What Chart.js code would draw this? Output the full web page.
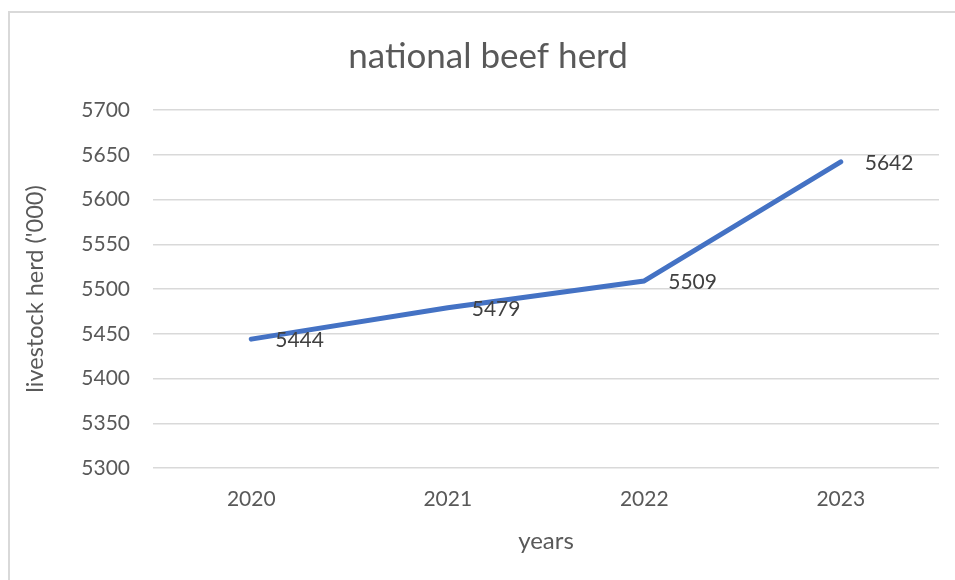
<!DOCTYPE html>
<html>
<head>
<meta charset="utf-8">
<script src="https://cdn.jsdelivr.net/npm/chart.js@4/dist/chart.umd.min.js"></script>
<style>
  html, body { margin: 0; padding: 0; background: #fff; overflow: hidden; }
  #wrap { position: relative; width: 955px; height: 580px; }
  #frame { position: absolute; left: 8px; top: 11px; width: 980px; height: 600px; border: 2px solid #d9d9d9; box-sizing: border-box; }
  canvas { position: absolute; left: 0; top: 0; }
</style>
</head>
<body>
<div id="wrap">
  <div id="frame"></div>
  <canvas id="chart" width="955" height="580"></canvas>
</div>
<script>
const years = ['2020', '2021', '2022', '2023'];
const herd = [5444, 5479, 5509, 5642];
const yMin = 5300, yMax = 5700, yStep = 50;

const FONT = 'Lato, "Open Sans", sans-serif';
const GREY = '#595959';

// title and value labels drawn on the canvas
const extras = {
  id: 'extras',
  afterDatasetsDraw(chart) {
    const ctx = chart.ctx;
    ctx.save();
    ctx.fillStyle = GREY;
    ctx.font = '35px ' + FONT;
    ctx.textAlign = 'center';
    ctx.textBaseline = 'middle';
    ctx.fillText('national beef herd', 488, 57);

    ctx.fillStyle = '#404040';
    ctx.font = '21px ' + FONT;
    ctx.textAlign = 'left';
    chart.getDatasetMeta(0).data.forEach((pt, i) => {
      ctx.fillText(String(herd[i]), pt.x + 24, pt.y + 1);
    });
    ctx.restore();
  }
};

new Chart(document.getElementById('chart'), {
  type: 'line',
  data: {
    labels: years,
    datasets: [{
      data: herd,
      borderColor: '#4472C4',
      borderWidth: 5,
      borderCapStyle: 'round',
      borderJoinStyle: 'round',
      pointRadius: 0,
      tension: 0,
    }],
  },
  options: {
    responsive: false,
    animation: false,
    layout: { padding: { top: 110, right: 16, left: 0, bottom: 0 } },
    plugins: { legend: { display: false }, title: { display: false }, tooltip: { enabled: false } },
    scales: {
      x: {
        offset: true,
        grid: { display: false, drawTicks: false },
        border: { display: false },
        ticks: { color: GREY, font: { family: FONT, size: 21 }, padding: 19 },
        title: { display: true, text: 'years', color: GREY, font: { family: FONT, size: 24 }, padding: { top: 0, bottom: 24 } },
        afterFit: s => { s.height = 112; },
      },
      y: {
        min: yMin, max: yMax,
        grid: { color: '#d9d9d9', lineWidth: 1.5, drawTicks: false },
        border: { display: false },
        ticks: { stepSize: yStep, color: GREY, font: { family: FONT, size: 21 }, padding: 23, callback: v => String(v) },
        title: { display: true, text: "livestock herd ('000)", color: GREY, font: { family: FONT, size: 23.5 }, padding: { top: 21, bottom: 0 } },
        afterFit: s => { s.width = 153; },
      },
    },
  },
  plugins: [extras],
});
</script>
</body>
</html>
